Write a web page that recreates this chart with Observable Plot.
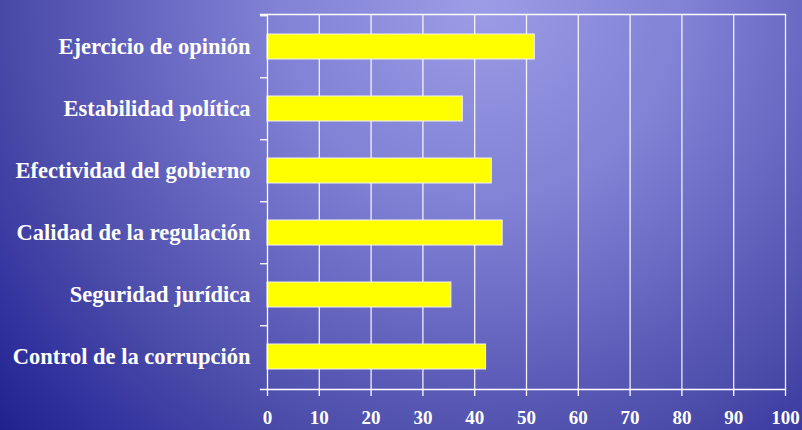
<!DOCTYPE html>
<html><head><meta charset="utf-8">
<script src="https://cdn.jsdelivr.net/npm/d3@7"></script>
<script src="https://cdn.jsdelivr.net/npm/@observablehq/plot@0.6"></script>
<style>
html,body{margin:0;padding:0;}
#chart{width:802px;height:430px;overflow:hidden;background:radial-gradient(circle at 60% 0%, #9c9ce6 0px, #8282d6 200px, #6a6ac4 320px, #4a4aa8 470px, #3434a0 560px, #1e1e8a 660px);}
</style></head><body><div id="chart"></div>
<script>
const categories = ["Ejercicio de opinión", "Estabilidad política", "Efectividad del gobierno", "Calidad de la regulación", "Seguridad jurídica", "Control de la corrupción"];
const values = [51.6, 37.7, 43.3, 45.4, 35.5, 42.2];
const xTicks = [0, 10, 20, 30, 40, 50, 60, 70, 80, 90, 100];

const data = categories.map((c, i) => ({category: c, value: values[i]}));

const W = 802, H = 430, mt = 14, mb = 41, ml = 267, mr = 17;
const step = (H - mt - mb) / categories.length;

const chart = Plot.plot({
  width: W, height: H,
  marginTop: mt, marginBottom: mb, marginLeft: ml, marginRight: mr,
  style: {fontFamily: "'Liberation Serif', serif", fontWeight: "bold", color: "white", background: "transparent", overflow: "visible"},
  x: {domain: [0, 100], label: null},
  y: {domain: categories, paddingInner: 0.6, paddingOuter: 0.3, label: null},
  marks: [
    Plot.gridX(xTicks.slice(1), {stroke: "white", strokeOpacity: 0.9, strokeWidth: 1.3}),
    Plot.barX(data, {x: "value", y: "category", fill: "#ffff00", stroke: "#f2f2f2", strokeWidth: 1}),
    Plot.frame({anchor: "left", stroke: "white", strokeWidth: 1.3}),
    Plot.frame({anchor: "top", stroke: "white", strokeWidth: 1.3, insetLeft: -7}),
    Plot.frame({anchor: "bottom", stroke: "white", strokeWidth: 1.3, insetLeft: -7}),
    Plot.axisY({tickSize: 7, text: null, label: null, dy: -step / 2, stroke: "white", strokeWidth: 1.3}),
    Plot.axisY({tickSize: 0, tickPadding: 17, fontSize: 22.5, fill: "white", label: null}),
    Plot.axisX(xTicks, {tickSize: 7, tickPadding: 14, fontSize: 19, fill: "white", stroke: "white", strokeWidth: 1.3, label: null})
  ]
});
document.getElementById("chart").appendChild(chart);
</script></body></html>
